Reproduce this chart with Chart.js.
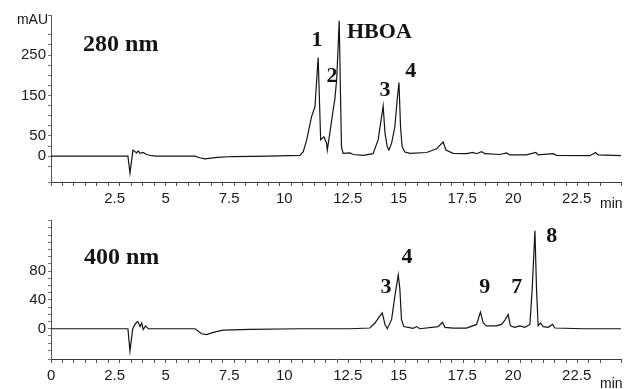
<!DOCTYPE html>
<html>
<head>
<meta charset="utf-8">
<script src="https://cdn.jsdelivr.net/npm/chart.js@4.4.1/dist/chart.umd.min.js"></script>
<style>
  html, body { margin: 0; padding: 0; background: #ffffff; }
  #wrap { position: relative; width: 628px; height: 389px; overflow: hidden; }
  canvas { position: absolute; left: 0; }
  #chart280 { top: 0; }
  #chart400 { top: 200px; }
</style>
</head>
<body>
<div id="wrap">
  <canvas id="chart280" width="628" height="212"></canvas>
  <canvas id="chart400" width="628" height="189"></canvas>
</div>
<script>
// retention time (min) and absorbance (mAU)
const TIME_280 = [
  0, 3.30, 3.36, 3.45, 3.58, 3.74, 3.81, 3.89, 4.02, 4.18, 4.40, 4.60,
  6.29, 6.50, 6.72, 7.00, 7.25, 7.95, 9.50,
  10.87, 11.02, 11.17, 11.38, 11.53, 11.67, 11.78, 11.92, 12.04, 12.07,
  12.18, 12.33, 12.40, 12.48, 12.55, 12.59, 12.65, 12.69, 12.76,
  13.06, 13.20, 13.64, 14.07, 14.29, 14.44, 14.51, 14.59, 14.69, 14.76,
  14.88, 15.02, 15.12, 15.20, 15.27, 15.34, 15.46, 15.68,
  16.41, 16.84, 17.13, 17.25, 17.57, 18.15, 18.44, 18.59, 18.81, 18.95,
  19.61, 19.90, 20.04, 20.77, 21.18, 21.28, 21.93, 22.08, 23.54, 23.79,
  23.90, 24.90,
];
const MAU_280 = [
  0, 0, 0, -42, 15, 8, 13, 7, 9, 4, 1, 0,
  0, -4, -7, -5, -3, -1, 0,
  2, 11, 40, 97, 122, 244, 40, 48, 32, 15,
  57, 116, 141, 190, 280, 335, 141, 23, 7,
  8, 4, 2, 6, 40, 97, 124, 57, 23, 15,
  32, 72, 138, 182, 72, 23, 10, 7,
  9, 18, 35, 15, 7, 6, 9, 6, 11, 6,
  4, 8, 3, 3, 9, 3, 6, 2, 1, 9,
  3, 1,
];

const TIME_400 = [
  0, 3.30, 3.36, 3.45, 3.57, 3.67, 3.74, 3.79, 3.89, 3.96, 4.03, 4.13, 4.25,
  6.29, 6.58, 6.80, 7.09, 7.52, 8.69, 10.87,
  13.06, 13.93, 14.15, 14.37, 14.47, 14.59, 14.69, 14.88, 15.02, 15.17,
  15.24, 15.31, 15.41, 15.82, 15.97, 16.11, 16.91, 17.10, 17.21, 17.57,
  18.15, 18.59, 18.76, 18.88, 19.03, 19.46, 19.68, 19.83, 19.97, 20.07,
  20.26, 20.48, 20.70, 20.92, 21.02, 21.14, 21.21, 21.28, 21.38, 21.50,
  21.72, 21.91, 22.01, 23.25, 24.90,
];
const MAU_400 = [
  0, 0, 0, -31, 0, 6, 9, 10, 3, 8, -1, 4, 0,
  0, -7, -8, -5, -2, -1, 0,
  0, 1, 8, 18, 22, 6, 0, 13, 45, 75,
  55, 13, 3, 0.5, 3, 0, 3, 9, 2, 1,
  1, 6, 23, 8, 4, 4, 6, 12, 20, 4,
  2, 4, 2, 6, 55, 136, 55, 4, 8, 3,
  2, 6, 1, 0, 0,
];

const X_LABELS_280 = ["2.5", "5", "7.5", "10", "12.5", "15", "17.5", "20", "22.5"];
const X_LABELS_400 = ["0", "2.5", "5", "7.5", "10", "12.5", "15", "17.5", "20", "22.5"];
const Y_LABELS_280 = ["0", "50", "150", "250"];
const Y_LABELS_400 = ["0", "40", "80"];

const PEAKS_280 = ["280 nm", "1", "2", "HBOA", "3", "4"];
const PEAKS_400 = ["400 nm", "3", "4", "9", "7", "8"];

// where each peak label sits, in (min, mAU)
const PEAK_ANCHORS_280 = [
  { t: 1.40, v: 275, align: "left", title: true },
  { t: 11.62, v: 287 },
  { t: 12.27, v: 198 },
  { t: 12.93, v: 307, align: "left" },
  { t: 14.59, v: 163 },
  { t: 15.72, v: 210 },
];
const PEAK_ANCHORS_400 = [
  { t: 1.44, v: 99, align: "left", title: true },
  { t: 14.63, v: 58 },
  { t: 15.55, v: 99 },
  { t: 18.95, v: 57 },
  { t: 20.35, v: 57 },
  { t: 21.88, v: 128 },
];

const INK = "#141414";
const SANS = "'Liberation Sans', Arial, sans-serif";
const SERIF = "'Liberation Serif', 'Times New Roman', serif";

const panelText = {
  id: "panelText",
  afterDraw(chart, args, opts) {
    const { ctx, chartArea } = chart;
    const x = chart.scales.x;
    const y = chart.scales.y;
    ctx.save();
    ctx.fillStyle = INK;
    ctx.textBaseline = "middle";
    opts.names.forEach((name, i) => {
      const a = opts.anchors[i];
      ctx.font = "bold " + (a.title ? 24 : 22) + "px " + SERIF;
      ctx.textAlign = a.align || "center";
      ctx.fillText(name, x.getPixelForValue(a.t), y.getPixelForValue(a.v));
    });
    ctx.font = "14px " + SANS;
    if (opts.unit) {
      ctx.textAlign = "right";
      ctx.fillText(opts.unit, chartArea.left - 3, chartArea.top + 5);
    }
    ctx.textAlign = "left";
    ctx.fillText("min", chartArea.right - 21, chartArea.bottom + opts.minOffset);
    ctx.restore();
  },
};

function labelFor(value, labels) {
  const hit = labels.find((l) => Math.abs(parseFloat(l) - value) < 1e-6);
  return hit === undefined ? "" : hit;
}

function panelConfig(times, values, opts) {
  return {
    type: "line",
    data: {
      datasets: [
        {
          data: times.map((t, i) => ({ x: t, y: values[i] })),
          borderColor: INK,
          borderWidth: 1.2,
          pointRadius: 0,
          tension: 0,
          fill: false,
        },
      ],
    },
    options: {
      responsive: false,
      animation: false,
      events: [],
      layout: { padding: { top: opts.padTop, right: 7, bottom: 0, left: 0 } },
      scales: {
        x: {
          type: "linear",
          min: 0,
          max: 24.9,
          afterFit: (s) => { s.height = 30; },
          border: { display: true, color: "#3a3a3a", width: 1 },
          grid: { display: true, drawOnChartArea: false, tickLength: 4, tickColor: "#555" },
          ticks: {
            stepSize: 0.5,
            autoSkip: false,
            maxRotation: 0,
            align: "start",
            labelOffset: -4,
            padding: 4,
            color: "#1a1a1a",
            font: { family: SANS, size: 15 },
            callback: (v) => labelFor(v, opts.xLabels),
          },
        },
        y: {
          min: opts.yMin,
          max: opts.yMax,
          afterFit: (s) => { s.width = 51; },
          border: { display: true, color: "#555", width: 1, dash: [1, 2] },
          grid: { display: true, drawOnChartArea: false, tickLength: 3, tickColor: "#777" },
          ticks: {
            stepSize: opts.yStep,
            autoSkip: false,
            padding: 2,
            color: "#1a1a1a",
            font: { family: SANS, size: 15 },
            callback: (v) => labelFor(v, opts.yLabels),
          },
        },
      },
      plugins: {
        legend: { display: false },
        tooltip: { enabled: false },
        panelText: {
          names: opts.names,
          anchors: opts.anchors,
          unit: opts.unit,
          minOffset: opts.minOffset,
        },
      },
    },
    plugins: [panelText],
  };
}

new Chart(
  document.getElementById("chart280").getContext("2d"),
  panelConfig(TIME_280, MAU_280, {
    padTop: 15,
    yMin: -64,
    yMax: 349,
    yStep: 25,
    xLabels: X_LABELS_280,
    yLabels: Y_LABELS_280,
    names: PEAKS_280,
    anchors: PEAK_ANCHORS_280,
    unit: "mAU",
    minOffset: 22,
  })
);

new Chart(
  document.getElementById("chart400").getContext("2d"),
  panelConfig(TIME_400, MAU_400, {
    padTop: 20,
    yMin: -42,
    yMax: 151,
    yStep: 10,
    xLabels: X_LABELS_400,
    yLabels: Y_LABELS_400,
    names: PEAKS_400,
    anchors: PEAK_ANCHORS_400,
    unit: null,
    minOffset: 25,
  })
);
</script>
</body>
</html>
